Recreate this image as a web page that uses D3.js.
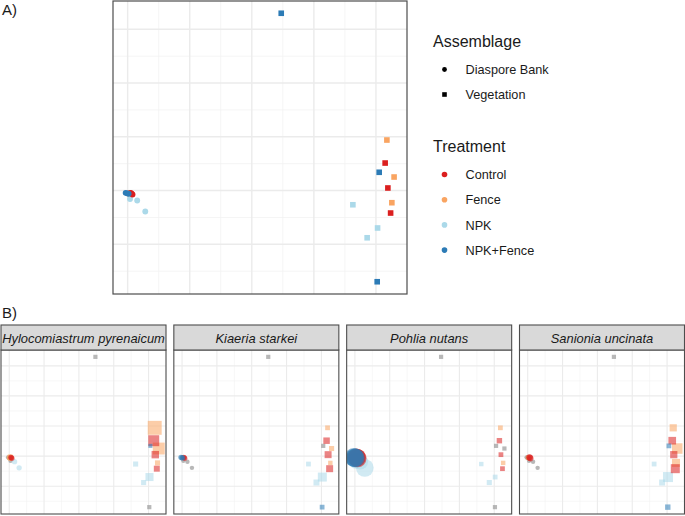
<!DOCTYPE html>
<html><head><meta charset="utf-8">
<script src="https://cdn.jsdelivr.net/npm/d3@7"></script>
<style>body{margin:0;background:#fff;font-family:"Liberation Sans",Arial,sans-serif;}</style>
</head><body><svg id="c" width="685" height="516"></svg>
<script>
// ---- data ----
const treatments = ["Control", "Fence", "NPK", "NPK+Fence"];
const treatmentColors = ["#db1f1f", "#f9a461", "#abd9e9", "#2c7bb6"];
const assemblages = ["Diaspore Bank", "Vegetation"];
const species = ["Hylocomiastrum pyrenaicum", "Kiaeria starkei", "Pohlia nutans", "Sanionia uncinata"];

// site order: Fence, NPK, Control, NPK+Fence (draw order) for each assemblage
const assemblage = ["Diaspore Bank","Diaspore Bank","Diaspore Bank","Diaspore Bank","Diaspore Bank","Diaspore Bank",
  "Diaspore Bank","Diaspore Bank","Diaspore Bank","Diaspore Bank","Diaspore Bank","Diaspore Bank",
  "Vegetation","Vegetation","Vegetation","Vegetation","Vegetation","Vegetation",
  "Vegetation","Vegetation","Vegetation","Vegetation","Vegetation","Vegetation"];
const treatment = ["Fence","Fence","Fence","NPK","NPK","NPK","Control","Control","Control","NPK+Fence","NPK+Fence","NPK+Fence",
  "Fence","Fence","Fence","NPK","NPK","NPK","Control","Control","Control","NPK+Fence","NPK+Fence","NPK+Fence"];
const nmds1 = [-0.986,-0.977,-0.994, -0.981,-0.923,-0.858, -0.969,-0.961,-0.977, -1.016,-1.003,-0.992,
  1.088,1.146,1.128, 0.814,1.013,0.929, 1.074,1.096,1.118, 0.237,1.026,1.010];
const nmds2 = [-0.523,-0.532,-0.527, -0.579,-0.593,-0.695, -0.526,-0.537,-0.521, -0.521,-0.526,-0.530,
  -0.030,-0.374,-0.613, -0.632,-0.848,-0.939, -0.244,-0.476,-0.709, 1.149,-0.330,-1.348];

// species cover (%) per site, same order; 0 = absent (grey)
const coverHylocomiastrum = [13,8,8, 0,8,8, 8,8,8, 0,0,0,
  60,44,8, 8,20,8, 37,17,11, 0,5,0];
const coverKiaeria = [5,5,5, 0,0,0, 8,8,8, 8,8,8,
  7,8,6, 7,25,11, 13,15,15, 0,0,7];
const coverPohlia = [85,85,85, 69,69,89, 89,89,89, 100,95,100,
  7,0,6, 6,7,8, 9,7,7, 0,0,0];
const coverSanionia = [8,0,8, 0,0,0, 11,11,11, 0,0,0,
  16,34,20, 7,31,11, 18,16,25, 0,7,9];
const covers = [coverHylocomiastrum, coverKiaeria, coverPohlia, coverSanionia];

// ---- drawing ----
const svg = d3.select("#c");
const color = d3.scaleOrdinal().domain(treatments).range(treatmentColors);
const xDom = [-1.118, 1.25], yDom = [-1.462, 1.263];
const majX = [-1, -0.5, 0, 0.5, 1], minX = [-0.75, -0.25, 0.25, 0.75];
const majY = [1, 0.5, 0, -0.5, -1], minY = [0.75, 0.25, -0.25, -0.75, -1.25];
const sizeScale = d3.scaleSqrt().domain([0, 100]).range([0, 18]);

function grid(g, x, y, majW, minW) {
  g.selectAll(null).data(minX).join("line").attr("x1", d => x(d)).attr("x2", d => x(d))
    .attr("y1", y.range()[0]).attr("y2", y.range()[1]).attr("stroke", "#f2f2f2").attr("stroke-width", minW);
  g.selectAll(null).data(minY).join("line").attr("y1", d => y(d)).attr("y2", d => y(d))
    .attr("x1", x.range()[0]).attr("x2", x.range()[1]).attr("stroke", "#f2f2f2").attr("stroke-width", minW);
  g.selectAll(null).data(majX).join("line").attr("x1", d => x(d)).attr("x2", d => x(d))
    .attr("y1", y.range()[0]).attr("y2", y.range()[1]).attr("stroke", "#ebebeb").attr("stroke-width", majW);
  g.selectAll(null).data(majY).join("line").attr("y1", d => y(d)).attr("y2", d => y(d))
    .attr("x1", x.range()[0]).attr("x2", x.range()[1]).attr("stroke", "#ebebeb").attr("stroke-width", majW);
}

function drawPoint(g, i, cx, cy, s, fill, op) {
  if (assemblage[i] === "Diaspore Bank") {
    g.append("circle").attr("cx", cx).attr("cy", cy).attr("r", s / 2 * 1.05)
      .attr("fill", fill).attr("fill-opacity", op);
  } else {
    g.append("rect").attr("x", cx - s / 2).attr("y", cy - s / 2).attr("width", s).attr("height", s)
      .attr("fill", fill).attr("fill-opacity", op);
  }
}

// Panel A
const xA = d3.scaleLinear().domain(xDom).range([113, 407]);
const yA = d3.scaleLinear().domain(yDom).range([294, 1]);
const gA = svg.append("g");
gA.append("rect").attr("x", 113).attr("y", 1).attr("width", 294).attr("height", 293).attr("fill", "#fff");
grid(gA, xA, yA, 1.4, 0.8);
nmds1.forEach((v, i) => drawPoint(gA, i, xA(v), yA(nmds2[i]), 5.6, color(treatment[i]), 1));
gA.append("rect").attr("x", 113).attr("y", 1).attr("width", 294).attr("height", 293)
  .attr("fill", "none").attr("stroke", "#4d4d4d").attr("stroke-width", 1.2);
svg.append("text").attr("x", 2).attr("y", 15).attr("font-size", 15).attr("fill", "#1a1a1a").text("A)");

// Legend
const lg = svg.append("g").attr("fill", "#1a1a1a");
lg.append("text").attr("x", 433).attr("y", 47).attr("font-size", 16).text("Assemblage");
assemblages.forEach((a, k) => {
  const cy = 69.5 + k * 25;
  if (k === 0) lg.append("circle").attr("cx", 444.5).attr("cy", cy).attr("r", 2.4).attr("fill", "#000");
  else lg.append("rect").attr("x", 442.2).attr("y", cy - 2.3).attr("width", 4.6).attr("height", 4.6).attr("fill", "#000");
  lg.append("text").attr("x", 465.5).attr("y", cy + 4.6).attr("font-size", 12.7).text(a);
});
lg.append("text").attr("x", 433).attr("y", 152).attr("font-size", 16).text("Treatment");
treatments.forEach((t, k) => {
  const cy = 174.5 + k * 25.2;
  lg.append("circle").attr("cx", 444.5).attr("cy", cy).attr("r", 2.8).attr("fill", color(t));
  lg.append("text").attr("x", 465.5).attr("y", cy + 4.6).attr("font-size", 12.7).text(t);
});

// Panel B
svg.append("text").attr("x", 2).attr("y", 318).attr("font-size", 15).attr("fill", "#1a1a1a").text("B)");
const facetX = d3.scaleBand().domain(species).range([1, 684.5]).paddingInner(0.0453);
const defs = svg.append("defs");
species.forEach((sp, f) => {
  const x0 = facetX(sp), w = facetX.bandwidth();
  const x = d3.scaleLinear().domain(xDom).range([x0, x0 + w]);
  const y = d3.scaleLinear().domain(yDom).range([514, 350]);
  const g = svg.append("g");
  defs.append("clipPath").attr("id", "clip" + f).append("rect")
    .attr("x", x0).attr("y", 350).attr("width", w).attr("height", 164);
  g.append("rect").attr("x", x0).attr("y", 350).attr("width", w).attr("height", 164).attr("fill", "#fff");
  grid(g, x, y, 1.1, 0.6);
  const pg = g.append("g").attr("clip-path", "url(#clip" + f + ")");
  const cov = covers[f];
  nmds1.forEach((v, i) => {
    if (cov[i] === 0) drawPoint(pg, i, x(v), y(nmds2[i]), 4.2, "#9a9a9a", 0.7);
  });
  nmds1.forEach((v, i) => {
    if (cov[i] > 0) drawPoint(pg, i, x(v), y(nmds2[i]), sizeScale(cov[i]), color(treatment[i]), 0.55);
  });
  g.append("rect").attr("x", x0).attr("y", 350).attr("width", w).attr("height", 164)
    .attr("fill", "none").attr("stroke", "#4d4d4d").attr("stroke-width", 1.1);
  g.append("rect").attr("x", x0).attr("y", 325).attr("width", w).attr("height", 25)
    .attr("fill", "#d9d9d9").attr("stroke", "#4d4d4d").attr("stroke-width", 1.1);
  g.append("text").attr("x", x0 + w / 2).attr("y", 342.5).attr("text-anchor", "middle")
    .attr("font-size", 12.9).attr("font-style", "italic").attr("fill", "#1a1a1a").text(sp);
});
</script></body></html>
